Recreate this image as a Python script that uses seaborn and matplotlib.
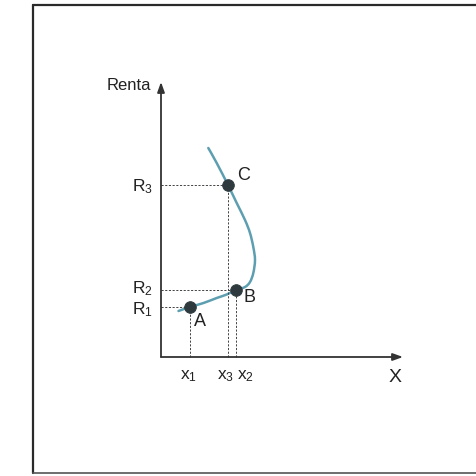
import matplotlib
matplotlib.use("Agg")
import matplotlib.pyplot as plt
from matplotlib.path import Path
from matplotlib.patches import PathPatch
import seaborn as sns
import pandas as pd
import numpy as np

sns.set_theme(style="white")
plt.rcParams["font.family"] = ["Liberation Sans", "DejaVu Sans"]
plt.rcParams["mathtext.fontset"] = "custom"
plt.rcParams["mathtext.rm"] = "Liberation Sans"
plt.rcParams["mathtext.it"] = "Liberation Sans"

# Income-consumption curve (quantity of X vs. income), traced from low to high income
curve_x = [1.75, 2.9, 4.25, 5.57, 6.57, 7.5, 8.4, 8.9, 9.23, 9.4, 9.23, 8.9, 8.4, 7.57, 6.7, 5.57, 4.73]
curve_y = [4.6, 5.0, 5.4, 5.9, 6.25, 6.7, 7.0, 7.5, 8.4, 9.7, 11.0, 12.4, 13.7, 15.4, 17.2, 19.4, 20.9]

# Marked equilibria
point_names = ["A", "B", "C"]
point_x = [2.9, 7.5, 6.7]
point_y = [5.0, 6.7, 17.2]
x_labels = [r"x$_1$", r"x$_2$", r"x$_3$"]
r_labels = [r"R$_1$", r"R$_2$", r"R$_3$"]

curve = pd.DataFrame({"x": curve_x, "y": curve_y})
points = pd.DataFrame({"x": point_x, "y": point_y, "name": point_names})

fig = plt.figure(figsize=(4.77, 4.76), dpi=100)
ax = fig.add_axes([0, 0, 1, 1])

# Page frame (top, left, bottom edges)
frame_kw = dict(color="#2a2a2a", lw=1.6, transform=ax.transAxes, clip_on=False)
ax.plot([0.069, 1.0], [0.9895, 0.9895], **frame_kw)
ax.plot([0.069, 0.069], [0.0063, 0.9895], **frame_kw)
ax.plot([0.069, 1.0], [0.0063, 0.0063], color="#555555", lw=1.2,
        transform=ax.transAxes, clip_on=False)

# Axes with arrows
arrow = dict(arrowstyle="-|>,head_length=0.5,head_width=0.18", color="#333333",
             lw=1.3, shrinkA=0, shrinkB=0)
ax.annotate("", xy=(24.2, 0), xytext=(0, 0), arrowprops=arrow)
ax.annotate("", xy=(0, 27.5), xytext=(0, 0), arrowprops=arrow)

# Dashed guides from each point to both axes
dash_kw = dict(color="#444444", lw=0.7, ls=(0, (2.2, 1.6)))
for px, py in zip(point_x, point_y):
    ax.plot([0, px], [py, py], **dash_kw)
    ax.plot([px, px], [0, py], **dash_kw)

# Smooth curve through the traced points (Catmull-Rom as cubic Bezier segments)
pts = curve[["x", "y"]].to_numpy()
ext = np.vstack([pts[0], pts, pts[-1]])
verts = [tuple(pts[0])]
codes = [Path.MOVETO]
for i in range(1, len(ext) - 2):
    p0, p1, p2, p3 = ext[i - 1], ext[i], ext[i + 1], ext[i + 2]
    c1 = p1 + (p2 - p0) / 6.0
    c2 = p2 - (p3 - p1) / 6.0
    verts += [tuple(c1), tuple(c2), tuple(p2)]
    codes += [Path.CURVE4] * 3
ax.add_patch(PathPatch(Path(verts, codes), facecolor="none",
                       edgecolor="#5d9fb1", lw=1.8, capstyle="round"))

sns.scatterplot(data=points, x="x", y="y", ax=ax, s=70,
                color="#2e3a3e", edgecolor="#2e3a3e", zorder=5)
ax.set_xlim(-16.1, 31.6)
ax.set_ylim(-11.9, 35.7)
ax.axis("off")

fs = 12
ax.text(-1.0, 27.1, "Renta", ha="right", va="center", fontsize=fs, color="#222222")
ax.text(23.4, -2.1, "X", ha="center", va="center", fontsize=fs + 2, color="#222222")

# Point names
ax.text(3.9, 3.5, "A", ha="center", va="center", fontsize=fs + 1, color="#222222")
ax.text(8.9, 5.9, "B", ha="center", va="center", fontsize=fs + 1, color="#222222")
ax.text(8.3, 18.2, "C", ha="center", va="center", fontsize=fs + 1, color="#222222")

# Income levels on the vertical axis
r_pos = [4.7, 6.8, 17.0]
for lab, yy in zip(r_labels, r_pos):
    ax.text(-0.8, yy, lab, ha="right", va="center", fontsize=fs + 0.5, color="#222222")

# Quantities on the horizontal axis
x_pos = [2.8, 8.4, 6.5]
for lab, xx in zip(x_labels, x_pos):
    ax.text(xx, -1.9, lab, ha="center", va="center", fontsize=fs + 0.5, color="#222222")

fig.savefig("out.png", dpi=100, facecolor="white")
